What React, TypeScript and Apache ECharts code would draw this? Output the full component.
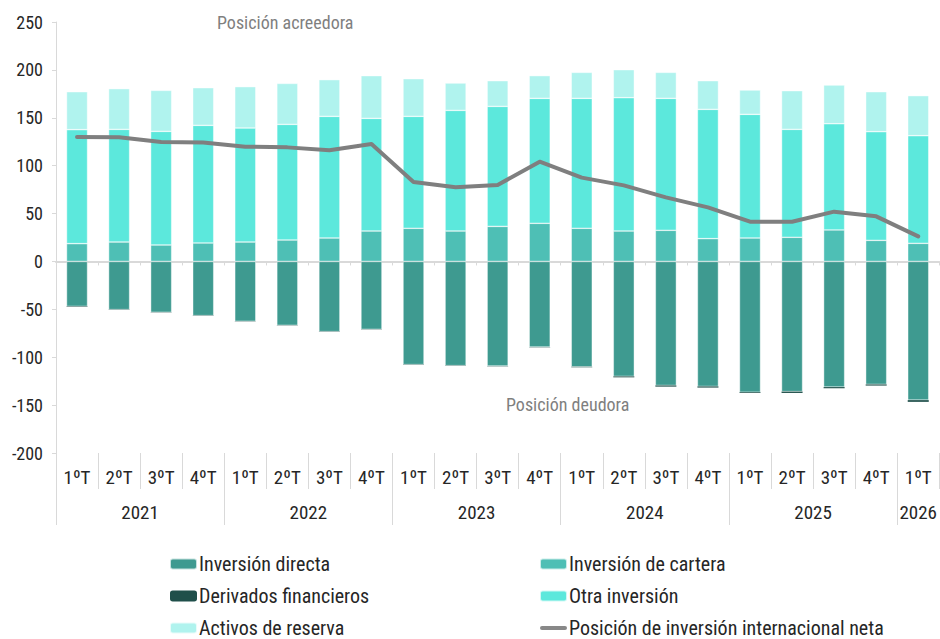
import React, { useEffect, useRef } from "react";
import * as echarts from "echarts";

const quarters = ["1ºT","2ºT","3ºT","4ºT","1ºT","2ºT","3ºT","4ºT","1ºT","2ºT","3ºT","4ºT","1ºT","2ºT","3ºT","4ºT","1ºT","2ºT","3ºT","4ºT","1ºT"];
const years = ["2021","2022","2023","2024","2025","2026"];
const yearCenters = [2, 6, 10, 14, 18, 20.5];
const yearBounds = [0, 4, 8, 12, 16, 20];

const inversionDirecta = [-46.9,-50.3,-53.1,-56.6,-62.5,-66.7,-73.3,-70.9,-107.7,-108.8,-109.2,-89.4,-110,-120,-129.5,-130.5,-136.5,-135.9,-131.2,-128.4,-144.8];
const inversionCartera = [18.6,20.3,17.2,19.3,20.3,22.4,24.5,31.8,34.6,31.8,36.6,39.8,34.6,31.8,32.5,23.8,24.5,25.2,32.9,22.0,18.9];
const derivados = [-0.3,-0.3,-0.3,-0.3,-0.3,-0.3,-0.3,-0.3,-0.3,-0.3,-0.3,-0.3,-0.5,-1,-1.2,-1.2,-0.8,-1.4,-1.2,-1.2,-1.8];
const otraInversion = [119.0,117.6,118.6,122.8,119.0,120.7,127.0,117.6,116.9,125.9,125.3,130.5,135.7,139.2,137.8,135.0,129.1,112.7,110.9,113.5,112.4];
const activosReserva = [39.6,42.5,42.8,39.3,43.2,42.8,38.3,44.6,39.3,28.6,26.8,23.7,27.1,29.2,27.1,29.9,25.4,40.4,40.4,41.7,41.8];
const piin = [130,129.6,124.7,124.3,119.8,119.1,116,122.6,83,77.4,79.8,104.2,87.5,79.4,66.9,56.5,41.5,41.5,52,47.1,26.2];

const FONT = "'Roboto Condensed', 'Roboto', sans-serif";
const AXIS_GREY = "#d9d9d9";
const TEXT = "#262626";

export default function App() {
  const ref = useRef<HTMLDivElement>(null);
  useEffect(() => {
    if (!ref.current) return;
    const chart = echarts.init(ref.current, null, { renderer: "svg" });
    const barCommon = {
      type: "bar",
      stack: "total",
      barWidth: "50%",
      xAxisIndex: 0,
      yAxisIndex: 0,
    };
    const border = { borderColor: "rgba(255,255,255,0.7)", borderWidth: 0.6 };
    const legendCommon = {
      orient: "vertical",
      top: 554,
      padding: 0,
      itemWidth: 27,
      itemHeight: 11,
      itemGap: 12,
      textStyle: { fontSize: 20, color: TEXT, fontFamily: FONT, lineHeight: 20, padding: [0, 0, 0, -3] },
    };
    chart.setOption({
      animation: false,
      textStyle: { fontFamily: FONT },
      grid: { left: 56, right: 0, top: 22, bottom: 186, containLabel: false },
      xAxis: [
        {
          type: "category",
          data: quarters,
          position: "bottom",
          axisLine: { show: true, onZero: true, lineStyle: { color: AXIS_GREY, width: 2 } },
          axisTick: { show: true, interval: 0, length: 4, lineStyle: { color: AXIS_GREY } },
          axisLabel: { show: false },
          splitLine: { show: false },
        },
        {
          type: "category",
          data: quarters,
          position: "bottom",
          axisLine: { show: false, onZero: false },
          axisTick: { show: true, interval: 0, length: 36, lineStyle: { color: AXIS_GREY } },
          axisLabel: { show: true, interval: 0, margin: 15, fontSize: 19, color: TEXT, fontFamily: FONT },
          splitLine: { show: false },
        },
        {
          type: "value",
          min: 0,
          max: 21,
          position: "bottom",
          axisLine: { show: false, onZero: false },
          axisTick: { show: true, customValues: yearBounds, length: 72, lineStyle: { color: AXIS_GREY } },
          axisLabel: {
            show: true,
            customValues: yearCenters,
            margin: 50,
            fontSize: 19,
            color: TEXT,
            fontFamily: FONT,
            formatter: (v: number) => {
              const i = yearCenters.indexOf(v);
              return i >= 0 ? years[i] : "";
            },
          },
          splitLine: { show: false },
        },
      ],
      yAxis: {
        type: "value",
        min: -200,
        max: 250,
        interval: 50,
        axisLine: { show: true, lineStyle: { color: AXIS_GREY } },
        axisTick: { show: true, length: 4, lineStyle: { color: AXIS_GREY } },
        axisLabel: { margin: 13, fontSize: 18, color: TEXT, fontFamily: FONT },
        splitLine: { show: false },
      },
      legend: [
        {
          ...legendCommon,
          left: 169,
          data: ["Inversión directa", "Derivados financieros", "Activos de reserva"],
        },
        {
          ...legendCommon,
          left: 539,
          data: [
            "Inversión de cartera",
            "Otra inversión",
            { name: "Posición de inversión internacional neta", icon: "path://M2,0h23a2,2 0 0 1 0,4h-23a2,2 0 0 1 0,-4z" },
          ],
        },
      ],
      graphic: [
        {
          type: "text",
          left: 217,
          top: 13,
          style: { text: "Posición acreedora", fontSize: 18, fill: "#7f7f7f", fontFamily: FONT },
        },
        {
          type: "text",
          left: 506,
          top: 395,
          style: { text: "Posición deudora", fontSize: 18, fill: "#7f7f7f", fontFamily: FONT },
        },
      ],
      series: [
        { ...barCommon, name: "Inversión directa", data: inversionDirecta, itemStyle: { color: "#3e9a90", ...border } },
        { ...barCommon, name: "Inversión de cartera", data: inversionCartera, itemStyle: { color: "#4ebfb5", ...border } },
        { ...barCommon, name: "Derivados financieros", data: derivados, itemStyle: { color: "#1f4f4a", borderWidth: 0 } },
        { ...barCommon, name: "Otra inversión", data: otraInversion, itemStyle: { color: "#5ce8dc", ...border } },
        { ...barCommon, name: "Activos de reserva", data: activosReserva, itemStyle: { color: "#b0f3ee", ...border } },
        {
          type: "line",
          name: "Posición de inversión internacional neta",
          data: piin,
          xAxisIndex: 0,
          yAxisIndex: 0,
          symbol: "none",
          z: 5,
          lineStyle: { color: "#7f7f7f", width: 4, cap: "round", join: "round" },
          itemStyle: { color: "#888888" },
        },
      ],
    });
    return () => chart.dispose();
  }, []);
  return <div ref={ref} style={{ width: 940, height: 639, position: "absolute", left: 0, top: 0 }} />;
}
